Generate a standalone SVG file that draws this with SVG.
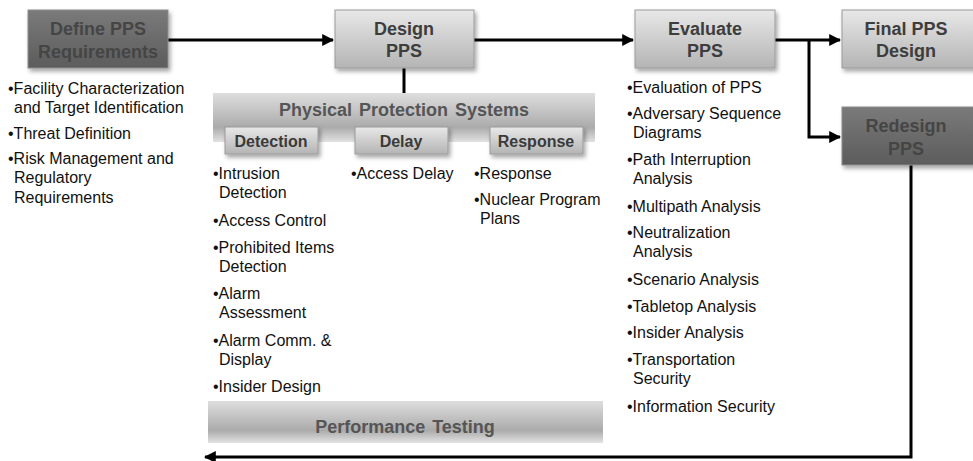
<svg xmlns="http://www.w3.org/2000/svg" width="973" height="461" viewBox="0 0 973 461">
  <style>
    .title { font-family: "Liberation Sans", Arial, sans-serif; font-weight: bold; font-size: 18px; text-anchor: middle; }
    .dark-t { fill: #454545; }
    .light-t { fill: #3d3d3d; }
    .sub-t { font-family: "Liberation Sans", Arial, sans-serif; font-weight: bold; font-size: 16px; text-anchor: middle; fill: #3a3a3a; }
    .band-t { font-family: "Liberation Sans", Arial, sans-serif; font-weight: bold; font-size: 18px; text-anchor: middle; fill: #555555; word-spacing: 2px; }
    .body { font-family: "Liberation Sans", Arial, sans-serif; font-size: 16px; fill: #111111; }
    .conn { fill: none; stroke: #000000; stroke-width: 3; }
    .light { fill: url(#gLight); stroke: #9a9a9a; stroke-width: 1; }
    .dark { fill: url(#gDark); stroke: #8c8c8c; stroke-width: 1; }
    .band { fill: url(#gBand); }
  </style>
  <defs>
    <linearGradient id="gLight" x1="0" y1="0" x2="0" y2="1">
      <stop offset="0" stop-color="#e8e8e8"/>
      <stop offset="1" stop-color="#b4b4b4"/>
    </linearGradient>
    <linearGradient id="gDark" x1="0" y1="0" x2="0" y2="1">
      <stop offset="0" stop-color="#7a7a7a"/>
      <stop offset="1" stop-color="#5c5c5c"/>
    </linearGradient>
    <linearGradient id="gBand" x1="0" y1="0" x2="0" y2="1">
      <stop offset="0" stop-color="#dedede"/>
      <stop offset="0.7" stop-color="#ababab"/>
      <stop offset="1" stop-color="#e2e2e2"/>
    </linearGradient>
    <filter id="shadow" x="-10%" y="-10%" width="130%" height="140%">
      <feDropShadow dx="2" dy="3" stdDeviation="2" flood-color="#000000" flood-opacity="0.35"/>
    </filter>
    <marker id="arrow" viewBox="0 0 10 10" refX="9" refY="5" markerWidth="4" markerHeight="4" orient="auto" markerUnits="strokeWidth">
      <path d="M0,0 L10,5 L0,10 Z" fill="#000000"/>
    </marker>
  </defs>

  <!-- connectors -->
  <g id="connectors">
    <path class="conn" d="M168,40 H333" marker-end="url(#arrow)"/>
    <path class="conn" d="M404,68 V95"/>
    <path class="conn" d="M474,40 H633" marker-end="url(#arrow)"/>
    <path class="conn" d="M775,40 H840" marker-end="url(#arrow)"/>
    <path class="conn" d="M809,40 V137 H840" marker-end="url(#arrow)"/>
    <path class="conn" d="M911,165 V457 H205" marker-end="url(#arrow)"/>
  </g>

  <g id="define">
    <rect class="dark" x="28" y="10" width="140" height="58" filter="url(#shadow)"/>
    <text class="title dark-t" x="98" y="35">Define PPS</text>
    <text class="title dark-t" x="98" y="58">Requirements</text>
  </g>
  <g id="define-list" class="body">
    <text x="8" y="94">•Facility Characterization</text>
    <text x="14" y="113">and Target Identification</text>
    <text x="8" y="139">•Threat Definition</text>
    <text x="8" y="164">•Risk Management and</text>
    <text x="14" y="183">Regulatory</text>
    <text x="14" y="203">Requirements</text>
  </g>

  <g id="design">
    <rect class="light" x="335" y="10" width="139" height="58" filter="url(#shadow)"/>
    <text class="title light-t" x="404" y="35">Design</text>
    <text class="title light-t" x="404" y="57">PPS</text>
  </g>

  <g id="pps">
    <rect class="band" x="213" y="93" width="382" height="49"/>
    <text class="band-t" x="404" y="116">Physical Protection Systems</text>
  </g>
  <g id="detection">
    <rect class="light" x="225" y="127" width="93" height="27" filter="url(#shadow)"/>
    <text class="sub-t" x="271" y="147">Detection</text>
  </g>
  <g id="delay">
    <rect class="light" x="355" y="127" width="93" height="27" filter="url(#shadow)"/>
    <text class="sub-t" x="401" y="147">Delay</text>
  </g>
  <g id="response">
    <rect class="light" x="490" y="127" width="93" height="27" filter="url(#shadow)"/>
    <text class="sub-t" x="536" y="147">Response</text>
  </g>
  <g id="detection-list" class="body">
    <text x="213" y="179">•Intrusion</text>
    <text x="219" y="198">Detection</text>
    <text x="213" y="226">•Access Control</text>
    <text x="213" y="253">•Prohibited Items</text>
    <text x="219" y="272">Detection</text>
    <text x="213" y="299">•Alarm</text>
    <text x="219" y="318">Assessment</text>
    <text x="213" y="346">•Alarm Comm. &amp;</text>
    <text x="219" y="365">Display</text>
    <text x="213" y="392">•Insider Design</text>
  </g>
  <g id="delay-list" class="body">
    <text x="351" y="179">•Access Delay</text>
  </g>
  <g id="response-list" class="body">
    <text x="474" y="179">•Response</text>
    <text x="474" y="205">•Nuclear Program</text>
    <text x="480" y="224">Plans</text>
  </g>

  <g id="performance">
    <rect class="band" x="208" y="401" width="395" height="42"/>
    <text class="band-t" x="405" y="433">Performance Testing</text>
  </g>

  <g id="evaluate">
    <rect class="light" x="635" y="10" width="140" height="58" filter="url(#shadow)"/>
    <text class="title light-t" x="705" y="35">Evaluate</text>
    <text class="title light-t" x="705" y="57">PPS</text>
  </g>
  <g id="evaluate-list" class="body">
    <text x="627" y="93">•Evaluation of PPS</text>
    <text x="627" y="119">•Adversary Sequence</text>
    <text x="633" y="138">Diagrams</text>
    <text x="627" y="165">•Path Interruption</text>
    <text x="633" y="184">Analysis</text>
    <text x="627" y="212">•Multipath Analysis</text>
    <text x="627" y="238">•Neutralization</text>
    <text x="633" y="257">Analysis</text>
    <text x="627" y="285">•Scenario Analysis</text>
    <text x="627" y="312">•Tabletop Analysis</text>
    <text x="627" y="338">•Insider Analysis</text>
    <text x="627" y="365">•Transportation</text>
    <text x="633" y="384">Security</text>
    <text x="627" y="412">•Information Security</text>
  </g>

  <g id="final">
    <rect class="light" x="842" y="10" width="136" height="58" filter="url(#shadow)"/>
    <text class="title light-t" x="906" y="35">Final PPS</text>
    <text class="title light-t" x="906" y="57">Design</text>
  </g>

  <g id="redesign">
    <rect class="dark" x="842" y="107" width="136" height="58" filter="url(#shadow)"/>
    <text class="title dark-t" x="906" y="132">Redesign</text>
    <text class="title dark-t" x="906" y="155">PPS</text>
  </g>
</svg>
